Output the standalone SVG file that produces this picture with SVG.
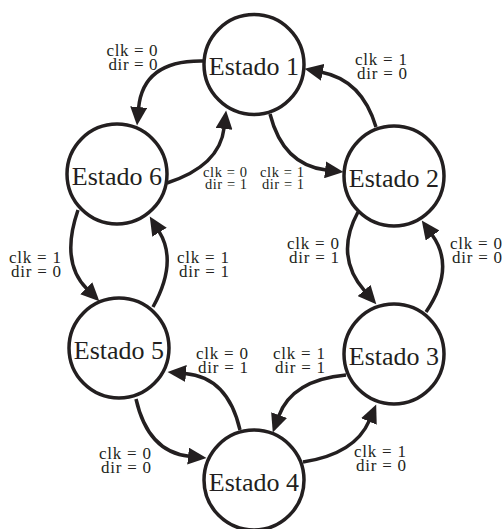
<svg xmlns="http://www.w3.org/2000/svg" width="503" height="529" viewBox="0 0 503 529">
<style>
.node circle{fill:#fff;stroke:#231f20;stroke-width:3.5}
.node text{font-family:"Liberation Serif","Times New Roman",serif;font-size:26px;fill:#231f20;text-anchor:middle}
.edge{fill:none;stroke:#231f20;stroke-width:3.5;marker-end:url(#arr)}
.lbl{font-family:"Liberation Serif","Times New Roman",serif;font-size:17px;fill:#231f20;text-anchor:middle}
.sm{font-size:14.5px}
</style>
<defs>
<marker id="arr" markerUnits="userSpaceOnUse" markerWidth="19" markerHeight="17" refX="1" refY="8.5" orient="auto" viewBox="0 0 19 17">
<path d="M0,0 L18.5,8.5 L0,17 z" fill="#231f20"/>
</marker>
</defs>
<g id="connectors">
<path class="edge" d="M203,61 Q143,60 138.6,108.1"/>
<path class="edge" d="M167,183 Q219.7,166 224.1,127.9"/>
<path class="edge" d="M376,127 Q362,80 321.7,72.2"/>
<path class="edge" d="M270,114 Q283,165 326.1,170"/>
<path class="edge" d="M358,212 Q334,256 364.8,291.2"/>
<path class="edge" d="M426,312 Q456,268 432,234.8"/>
<path class="edge" d="M346,375 Q292,380 278.8,416"/>
<path class="edge" d="M303,462 Q355,454 369.3,420.6"/>
<path class="edge" d="M240,430 Q228,377 185,373.4"/>
<path class="edge" d="M136,399 Q148,452 189.1,456.2"/>
<path class="edge" d="M78,210 Q60,262 87,289"/>
<path class="edge" d="M153,307 Q178,262 159,231.4"/>
</g>
<g id="labels">
<text class="lbl" x="132" y="56" textLength="51">clk = 0</text><text class="lbl" x="133" y="70" textLength="49">dir = 0</text>
<text class="lbl" x="381" y="65" textLength="52">clk = 1</text><text class="lbl" x="382" y="79" textLength="50">dir = 0</text>
<text class="lbl sm" x="225" y="177" textLength="44">clk = 0</text><text class="lbl sm" x="226" y="189" textLength="42">dir = 1</text>
<text class="lbl sm" x="282" y="177" textLength="44">clk = 1</text><text class="lbl sm" x="283" y="189" textLength="42">dir = 1</text>
<text class="lbl" x="313" y="249" textLength="52">clk = 0</text><text class="lbl" x="314" y="263" textLength="50">dir = 1</text>
<text class="lbl" x="476" y="249" textLength="52">clk = 0</text><text class="lbl" x="477" y="263" textLength="50">dir = 0</text>
<text class="lbl" x="35" y="263" textLength="52">clk = 1</text><text class="lbl" x="36" y="277" textLength="50">dir = 0</text>
<text class="lbl" x="203" y="263" textLength="52">clk = 1</text><text class="lbl" x="204" y="277" textLength="50">dir = 1</text>
<text class="lbl" x="222" y="359" textLength="52">clk = 0</text><text class="lbl" x="223" y="373" textLength="50">dir = 1</text>
<text class="lbl" x="299" y="359" textLength="52">clk = 1</text><text class="lbl" x="300" y="373" textLength="50">dir = 1</text>
<text class="lbl" x="125" y="459" textLength="52">clk = 0</text><text class="lbl" x="126" y="473" textLength="50">dir = 0</text>
<text class="lbl" x="380" y="457" textLength="52">clk = 1</text><text class="lbl" x="381" y="471" textLength="50">dir = 0</text>
</g>
<g id="estado1" class="node"><circle cx="254" cy="64.5" r="50"/><text x="254" y="75">Estado 1</text></g>
<g id="estado2" class="node"><circle cx="394" cy="176" r="50"/><text x="394" y="186.5">Estado 2</text></g>
<g id="estado3" class="node"><circle cx="394" cy="354" r="50"/><text x="394" y="364.5">Estado 3</text></g>
<g id="estado4" class="node"><circle cx="254" cy="480" r="50"/><text x="254" y="490.5">Estado 4</text></g>
<g id="estado5" class="node"><circle cx="119" cy="348" r="50"/><text x="119" y="358.5">Estado 5</text></g>
<g id="estado6" class="node"><circle cx="117" cy="174" r="50"/><text x="117" y="184.5">Estado 6</text></g>
</svg>
